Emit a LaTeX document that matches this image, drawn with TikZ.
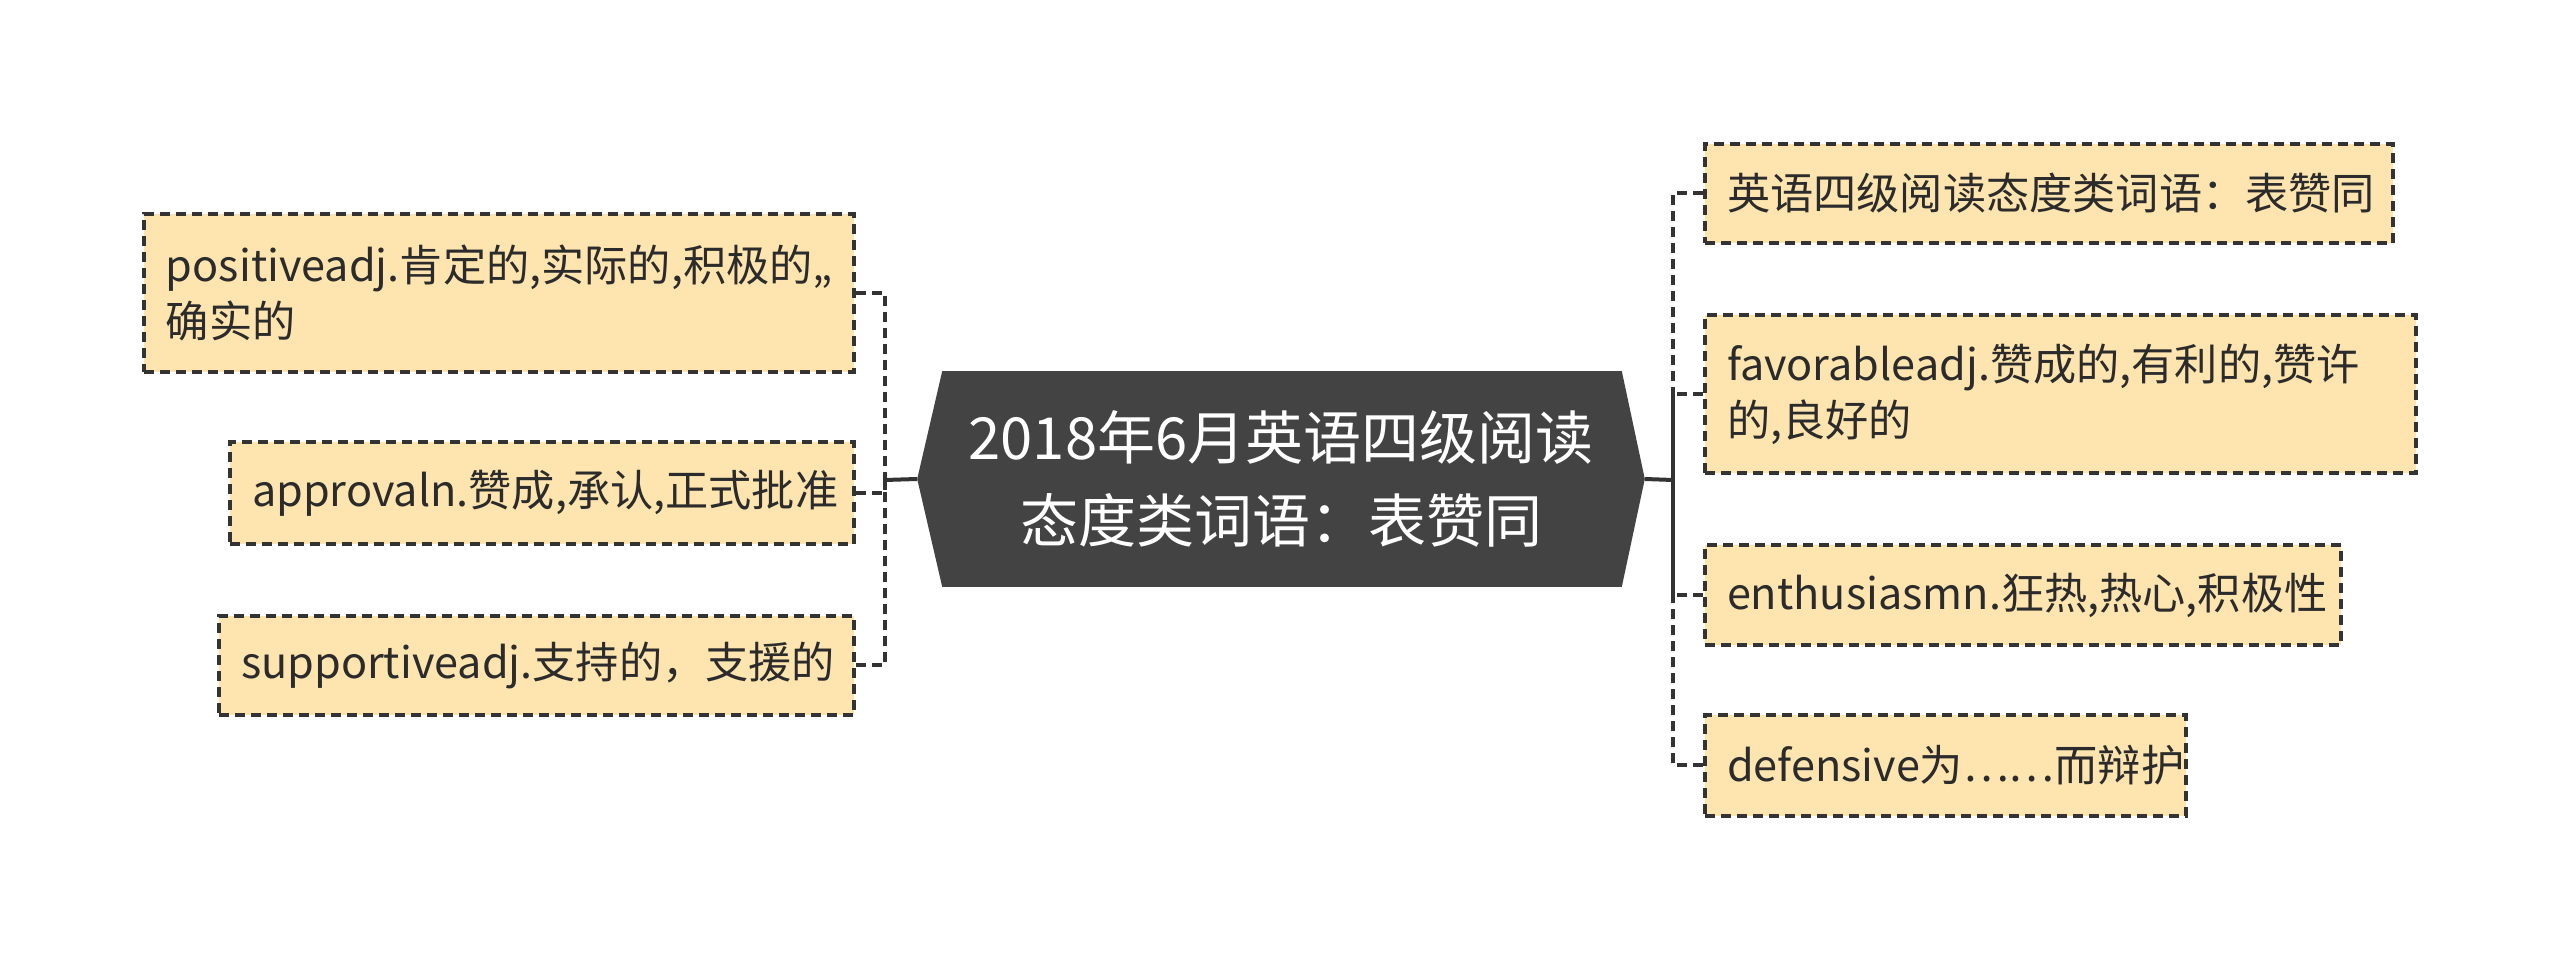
\documentclass[tikz,border=0pt]{standalone}
\usepackage{fontspec}
\setmainfont{Noto Sans CJK SC}
\usetikzlibrary{backgrounds}
\definecolor{boxfill}{HTML}{FEE5B0}
\definecolor{edge}{HTML}{333333}
\definecolor{hub}{HTML}{434343}
\definecolor{txt}{HTML}{2B2B2B}
\begin{document}
\begin{tikzpicture}[x=0.25pt,y=-0.25pt,
  leaf/.style={draw=edge, fill=boxfill, line width=1pt, dash pattern=on 2.5pt off 1.5pt,
    inner xsep=5.5pt, inner ysep=0pt, align=left, text=txt,
    font=\fontsize{10.8}{14}\selectfont},
  hubnode/.style={inner sep=0pt, align=center, text=white,
    font=\fontsize{14.5}{20.8}\selectfont, minimum width=181.5pt, minimum height=53.5pt},
  conn/.style={draw=edge, line width=1pt},
  dconn/.style={conn, dash pattern=on 2.5pt off 1.5pt}]
\useasboundingbox (0,0) rectangle (2560,960);

% hub
\node[hubnode] (c) at (1281,479) {2018年6月英语四级阅读\\态度类词语：表赞同};
\begin{scope}[on background layer]
\fill[hub] (c.west) -- ([xshift=6.25pt]c.north west) -- ([xshift=-5.75pt]c.north east) -- (c.east)
  -- ([xshift=-5.75pt]c.south east) -- ([xshift=6.25pt]c.south west) -- cycle;
\end{scope}

% left leaves
\node[leaf, minimum width=177.5pt, minimum height=39.5pt, text width=166.5pt] (l1) at (499,293)
  {positiveadj.肯定的,实际的,积极的,,\\确实的};
\node[leaf, minimum width=156pt, minimum height=25.5pt, text width=145pt] (l2) at (542,493)
  {approvaln.赞成,承认,正式批准};
\node[leaf, minimum width=158.75pt, minimum height=24.75pt, text width=147.75pt] (l3) at (536.5,665.5)
  {supportiveadj.支持的，支援的};

% right leaves
\node[leaf, minimum width=172pt, minimum height=24.75pt, text width=161pt] (r1) at (2049,193.5)
  {英语四级阅读态度类词语：表赞同};
\node[leaf, minimum width=177.75pt, minimum height=39.5pt, text width=166.75pt] (r2) at (2060.5,394)
  {favorableadj.赞成的,有利的,赞许\\的,良好的};
\node[leaf, minimum width=159pt, minimum height=25pt, text width=148pt] (r3) at (2023,595)
  {enthusiasmn.狂热,热心,积极性};
\node[leaf, minimum width=120.25pt, minimum height=25.25pt, text width=109.25pt] (r4) at (1945.5,765.5)
  {defensive为……而辩护};

% junctions
\coordinate (lj) at (885,480);
\coordinate (rj) at (1673,480);

\draw[conn] (c.west) -- (lj);
\draw[conn] (c.east) -- (rj);
\draw[dconn] (l1.east) -| (lj);
\draw[dconn] (l2.east) -| (lj);
\draw[dconn] (l3.east) -| (lj);
\draw[dconn] (r1.west) -| (rj);
\draw[dconn] (r2.west) -| (rj);
\draw[dconn] (r3.west) -| (rj);
\draw[dconn] (r4.west) -| (rj);
\end{tikzpicture}
\end{document}
